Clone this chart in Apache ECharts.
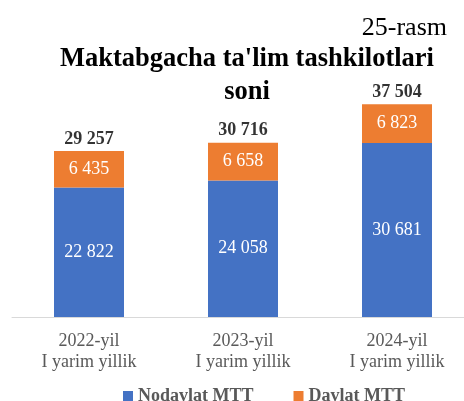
<!DOCTYPE html>
<html>
<head>
<meta charset="utf-8">
<script src="https://cdn.jsdelivr.net/npm/echarts@6/dist/echarts.min.js"></script>
<style>
  html, body { margin: 0; padding: 0; background: #fff; }
</style>
</head>
<body>
<div id="chart" style="width: 464px; height: 401px;"></div>
<script>
const categories = ['2022-yil\nI yarim yillik', '2023-yil\nI yarim yillik', '2024-yil\nI yarim yillik']
const nodavlat = [22822, 24058, 30681]
const davlat = [6435, 6658, 6823]
const totals = [29257, 30716, 37504]

const fmt = v => String(v).replace(/\B(?=(\d{3})+(?!\d))/g, ' ')
const font = '"Liberation Serif", "Times New Roman", serif'

const chart = echarts.init(document.getElementById('chart'))

const option = {
  animation: false,
  textStyle: { fontFamily: font },
  title: [{
    text: "Maktabgacha ta'lim tashkilotlari\nsoni",
    left: 242,
    top: 38,
    textAlign: 'center',
    textStyle: { fontFamily: font, fontSize: 26.5, fontWeight: 'bold', color: '#000', lineHeight: 33 }
  }, {
    text: '25-rasm',
    right: 12,
    top: 10,
    textStyle: { fontFamily: font, fontSize: 26, fontWeight: 'normal', color: '#000' }
  }],
  grid: {
    left: 12,
    width: 462,
    top: 90,
    bottom: 84,
    outerBoundsMode: 'none'
  },
  xAxis: {
    type: 'category',
    data: categories,
    axisTick: { show: false },
    axisLine: { lineStyle: { color: '#d9d9d9', width: 1 } },
    axisLabel: { fontFamily: font, fontSize: 18, color: '#595959', lineHeight: 21, margin: 14 }
  },
  yAxis: {
    type: 'value',
    min: 0,
    max: 40000,
    show: false,
    splitLine: { show: false }
  },
  legend: {
    data: ['Nodavlat MTT', 'Davlat MTT'],
    top: 382,
    left: 118,
    itemWidth: 10,
    itemHeight: 10,
    itemGap: 40,
    icon: 'rect',
    textStyle: { fontFamily: font, fontSize: 18, fontWeight: 'bold', color: '#595959' }
  },
  series: [{
    name: 'Nodavlat MTT',
    type: 'bar',
    stack: 'all',
    barWidth: 70,
    data: nodavlat,
    itemStyle: { color: '#4472c4' },
    label: {
      show: true,
      position: 'inside',
      formatter: p => fmt(p.value),
      fontFamily: font,
      fontSize: 18,
      color: '#fff'
    }
  }, {
    name: 'Davlat MTT',
    type: 'bar',
    stack: 'all',
    barWidth: 70,
    data: davlat,
    itemStyle: { color: '#ed7d31' },
    label: {
      show: true,
      position: 'inside',
      formatter: p => fmt(p.value),
      fontFamily: font,
      fontSize: 18,
      color: '#fff'
    }
  }, {
    name: 'Jami',
    type: 'scatter',
    data: totals,
    symbolSize: 0,
    silent: true,
    label: {
      show: true,
      position: 'top',
      distance: 3,
      formatter: p => fmt(p.value),
      fontFamily: font,
      fontSize: 18,
      fontWeight: 'bold',
      color: '#000'
    }
  }]
}

chart.setOption(option, true)
window.addEventListener('resize', () => chart && chart.resize())
</script>
</body>
</html>
